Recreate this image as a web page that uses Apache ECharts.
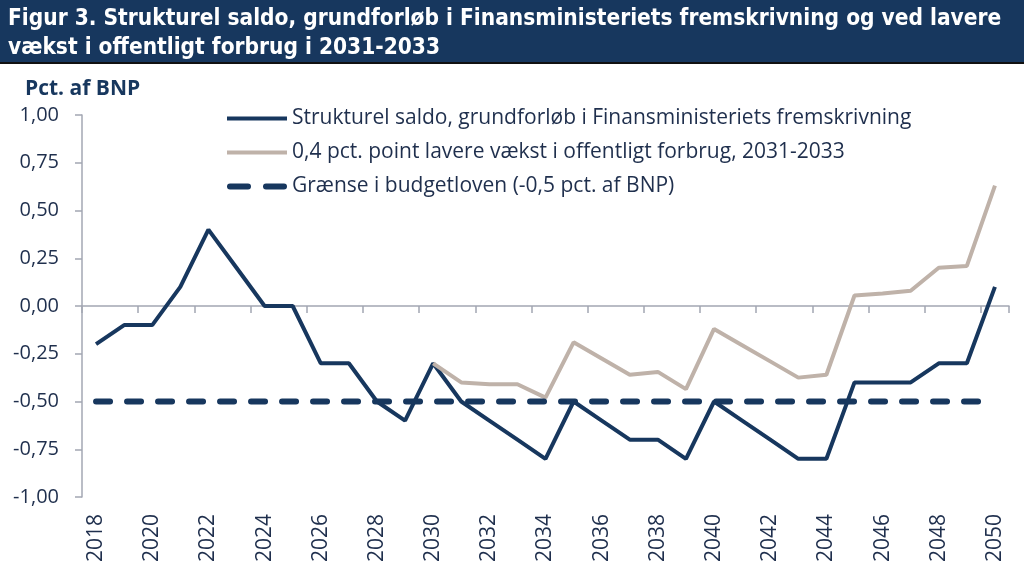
<!DOCTYPE html>
<html>
<head>
<meta charset="utf-8">
<script src="https://cdn.jsdelivr.net/npm/echarts@6/dist/echarts.min.js"></script>
<style>html,body{margin:0;padding:0;background:#fff}#c{width:1024px;height:572px}</style>
</head>
<body>
<div id="c"></div>
<script>
const years = ['2018','2019','2020','2021','2022','2023','2024','2025','2026','2027','2028','2029','2030','2031','2032','2033','2034','2035','2036','2037','2038','2039','2040','2041','2042','2043','2044','2045','2046','2047','2048','2049','2050'];
const baseline = [-0.2,-0.1,-0.1,0.1,0.4,0.2,0,0,-0.3,-0.3,-0.5,-0.6,-0.3,-0.5,-0.6,-0.7,-0.8,-0.5,-0.6,-0.7,-0.7,-0.8,-0.5,-0.6,-0.7,-0.8,-0.8,-0.4,-0.4,-0.4,-0.3,-0.3,0.1];
const lowerGrowth = [null,null,null,null,null,null,null,null,null,null,null,null,-0.3,-0.4,-0.41,-0.41,-0.48,-0.19,-0.275,-0.36,-0.345,-0.435,-0.12,-0.205,-0.29,-0.375,-0.36,0.055,0.065,0.08,0.2,0.21,0.63];
const limit = years.map(() => -0.5);
const seriesNames = ['Strukturel saldo, grundforløb i Finansministeriets fremskrivning','0,4 pct. point lavere vækst i offentligt forbrug, 2031-2033','Grænse i budgetloven (-0,5 pct. af BNP)'];
const titleText = 'Figur 3. Strukturel saldo, grundforløb i Finansministeriets fremskrivning og ved lavere\nvækst i offentligt forbrug i 2031-2033';
const yName = 'Pct. af BNP';

const navy = '#17375e';
const grey = '#bfb2a9';
const axisGrey = '#a3a7b3';
const textCol = '#1f2f4d';
const dashIcon = 'path://M3,0H21A3,3 0 0 1 21,6H3A3,3 0 0 1 3,0ZM39,0H57A3,3 0 0 1 57,6H39A3,3 0 0 1 39,0Z';
const chart = echarts.init(document.getElementById('c'));
chart.setOption({
  animation: false,
  graphic: [
    {type:'rect', left:0, top:0, shape:{width:1024, height:62}, style:{fill:navy}, z:0},
    {type:'rect', left:0, top:62, shape:{width:1024, height:2}, style:{fill:'#111'}, z:0},
    {type:'text', left:25, top:79, style:{text:yName, font:'bold 21px "Open Sans"', fill:navy}}
  ],
  title: {
    text: titleText, left: 8, top: 5, padding: 0,
    textStyle: {color:'#fff', fontFamily:'"DejaVu Sans Condensed"', fontWeight:'bold', fontSize:22.5, lineHeight:29}
  },
  legend: {
    orient:'vertical', left:220, top:103, itemWidth:60, itemHeight:14, itemGap:13,
    itemStyle:{opacity:0, borderWidth:0},
    textStyle:{fontFamily:'"Open Sans"', fontSize:21, color:textCol, padding:[0,0,0,0]},
    data: [
      {name:seriesNames[0], lineStyle:{width:4, color:navy}},
      {name:seriesNames[1], lineStyle:{width:4, color:grey}},
      {name:seriesNames[2], icon:dashIcon, itemStyle:{color:navy, opacity:1, borderWidth:0}}
    ]
  },
  grid: {left:82, right:15, top:115, bottom:75},
  xAxis: [
    {type:'category', data:years, boundaryGap:true,
     axisLine:{show:false, onZero:false}, axisTick:{show:false},
     axisLabel:{rotate:90, interval:1, margin:17, fontFamily:'"Open Sans"', fontSize:21, color:textCol}},
    {type:'category', data:years, boundaryGap:true, position:'bottom',
     axisLine:{show:true, onZero:true, lineStyle:{color:axisGrey, width:1.5}},
     axisTick:{show:true, length:7, lineStyle:{color:axisGrey, width:1.5}},
     axisLabel:{show:false}}
  ],
  yAxis: {type:'value', min:-1, max:1, interval:0.25,
    axisLine:{show:true, lineStyle:{color:axisGrey, width:1.5}},
    axisTick:{show:true, length:7, lineStyle:{color:axisGrey, width:1.5}},
    splitLine:{show:false},
    axisLabel:{margin:23, fontFamily:'"Open Sans"', fontSize:20, color:textCol,
      formatter: v => v.toFixed(2).replace('.', ',')}},
  series: [
    {name:seriesNames[0], type:'line', data:baseline, showSymbol:false, symbol:'none',
     lineStyle:{color:navy, width:4}, itemStyle:{color:navy}, z:3},
    {name:seriesNames[1], type:'line', data:lowerGrowth, showSymbol:false, symbol:'none',
     lineStyle:{color:grey, width:4}, itemStyle:{color:grey}, z:4},
    {name:seriesNames[2], type:'line', data:limit, showSymbol:false, symbol:'none',
     lineStyle:{color:navy, width:6, type:[14,17], cap:'round'}, itemStyle:{color:navy}, z:5}
  ]
});
</script>
</body>
</html>
